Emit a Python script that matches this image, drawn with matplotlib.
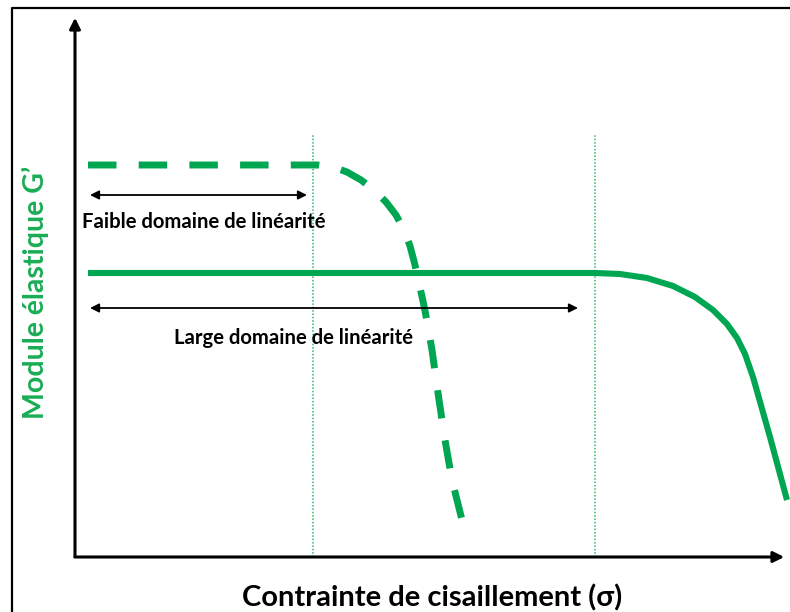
import matplotlib.pyplot as plt

plt.rcParams['font.family'] = ['Lato', 'DejaVu Sans']

GREEN = '#00a651'
LIGHT_GREEN = '#2bb86a'

# schematic curves: x = shear stress, y = elastic modulus G' (arbitrary units)
weak_x = [13, 243, 258, 272, 286, 299, 311, 321, 329, 335, 340, 344, 348,
          352, 357, 363, 370, 377, 387]
weak_y = [392, 392, 390, 385, 377, 367, 355, 342, 327, 311, 292, 274, 256,
          236, 207, 164, 117, 77, 37]

strong_x = [13, 520, 545, 572, 598, 620, 638, 652, 662, 670, 678, 695, 712]
strong_y = [284, 284, 283, 279, 271, 260, 247, 233, 219, 203, 180, 120, 57]

# limits of the linear domains
limits_x = [238, 520]
limit_top = 422

# range arrows (start, end, height)
weak_range = (15, 232, 362)
strong_range = (15, 503, 249)

weak_label = "Faible domaine de linéarité"
strong_label = "Large domaine de linéarité"
x_label = "Contrainte de cisaillement (σ)"
y_label = "Module élastique G’"

fig = plt.figure(figsize=(7.9, 6.12), dpi=100)
ax = fig.add_axes([0, 0, 1, 1])
ax.set_xlim(-75, 715)
ax.set_ylim(-55, 557)
ax.axis('off')

# frame (left and top edges of the screenshot)
ax.plot([-63, -63, 715], [-55, 549, 549], color='black', lw=1.6, clip_on=False)

# axes with arrow heads
ax.annotate('', xy=(0, 542), xytext=(0, -2),
            arrowprops=dict(arrowstyle='-|>', color='black', lw=2.2, mutation_scale=16))
ax.annotate('', xy=(712, 0), xytext=(-3, 0),
            arrowprops=dict(arrowstyle='-|>', color='black', lw=2.2, mutation_scale=16))

for x in limits_x:
    ax.plot([x, x], [0, limit_top], color=LIGHT_GREEN, lw=1.1, ls=(0, (1, 1.2)))

ax.plot(strong_x, strong_y, color=GREEN, lw=4.4, solid_joinstyle='round',
        solid_capstyle='butt')
ax.plot(weak_x, weak_y, color=GREEN, lw=5, dashes=(4.1, 3.2),
        dash_joinstyle='round', dash_capstyle='butt')

for x0, x1, y in (weak_range, strong_range):
    ax.annotate('', xy=(x1, y), xytext=(x0, y),
                arrowprops=dict(arrowstyle='<|-|>', color='black', lw=1.3,
                                mutation_scale=13, shrinkA=0, shrinkB=0))

ax.text(129, 335, weak_label, ha='center', va='center', fontsize=14.6,
        fontweight='bold', color='black')
ax.text(218, 219, strong_label, ha='center', va='center', fontsize=14.6,
        fontweight='bold', color='black')

ax.text(357, -41, x_label, ha='center', va='center', fontsize=21,
        fontweight='bold', color='black')
ax.text(-40, 265, y_label, ha='center', va='center', fontsize=20.5,
        fontweight='bold', color='#1aad55', rotation=90)

fig.savefig('out.png', dpi=100)
